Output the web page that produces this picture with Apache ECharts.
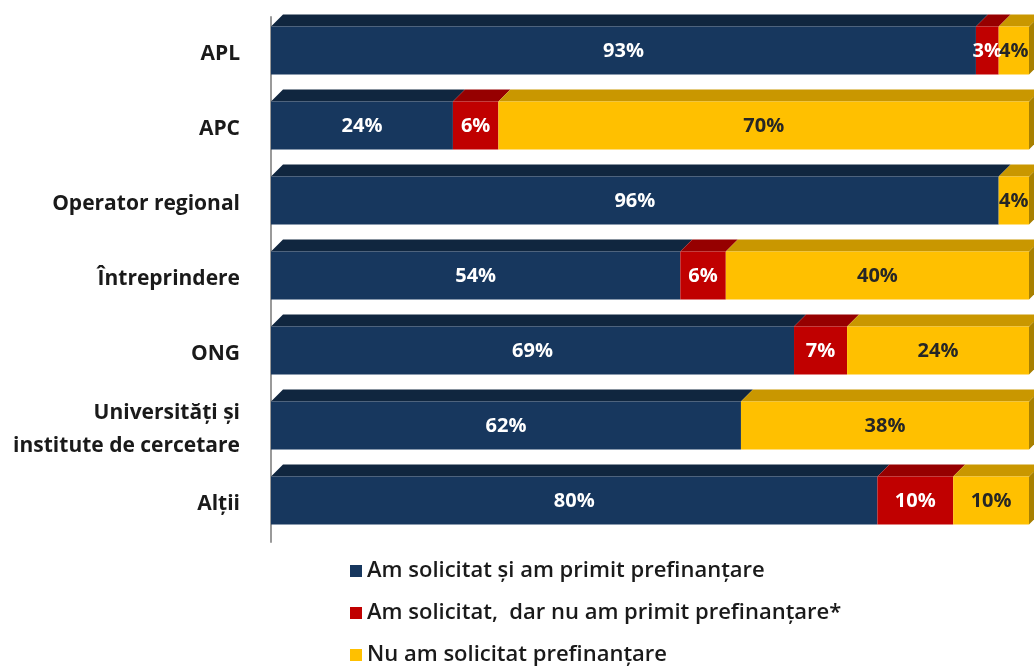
<!DOCTYPE html>
<html>
<head>
<meta charset="utf-8">
<script src="https://cdn.jsdelivr.net/npm/echarts@6/dist/echarts.min.js"></script>
<style>
  html, body { margin: 0; padding: 0; background: #fff; }
  #chart { width: 1034px; height: 671px; }
</style>
</head>
<body>
<div id="chart"></div>
<script>
  // categorii si valori (%)
  const categories = ['APL', 'APC', 'Operator regional', 'Întreprindere', 'ONG', 'Universități și\ninstitute de cercetare', 'Alții'];
  const seriesNames = ['Am solicitat și am primit prefinanțare', 'Am solicitat,  dar nu am primit prefinanțare*', 'Nu am solicitat prefinanțare'];
  const primit = [93, 24, 96, 54, 69, 62, 80];
  const respins = [3, 6, 0, 6, 7, 0, 10];
  const nesolicitat = [4, 70, 4, 40, 24, 38, 10];

  const frontColors = ['#17375e', '#c00000', '#ffc000'];
  const topColors = ['#10263f', '#960000', '#c99700'];
  const sideColors = ['#0c1d30', '#7a0000', '#a88000'];
  const labelColors = ['#ffffff', '#ffffff', '#262626'];

  const allValues = [primit, respins, nesolicitat];
  const depth = 12;

  const chart = echarts.init(document.getElementById('chart'));

  function buildData(k) {
    const out = [];
    for (let i = 0; i < categories.length; i++) {
      let start = 0;
      for (let j = 0; j < k; j++) start += allValues[j][i];
      out.push([start, start + allValues[k][i], i, allValues[k][i]]);
    }
    return out;
  }

  function makeRender(k) {
    return function (params, api) {
      const s = api.value(0), e = api.value(1), idx = api.value(2), v = api.value(3);
      if (!v) return;
      const p0 = api.coord([s, idx]);
      const p1 = api.coord([e, idx]);
      const y0 = p0[1] - 28, y1 = p0[1] + 20;
      const children = [
        {
          type: 'polygon',
          shape: { points: [[p0[0], y0], [p0[0] + depth, y0 - depth], [p1[0] + depth, y0 - depth], [p1[0], y0]] },
          style: { fill: topColors[k] }
        },
        {
          type: 'rect',
          shape: { x: p0[0], y: y0, width: p1[0] - p0[0], height: y1 - y0 },
          style: { fill: frontColors[k] }
        }
      ];
      if (e >= 100) {
        children.push({
          type: 'polygon',
          shape: { points: [[p1[0], y0], [p1[0] + depth, y0 - depth], [p1[0] + depth, y1 - depth], [p1[0], y1]] },
          style: { fill: sideColors[k] }
        });
      }
      children.push({
        type: 'text',
        z2: 100,
        style: {
          text: v + '%',
          x: (p0[0] + p1[0]) / 2,
          y: (y0 + y1) / 2 + 1,
          align: 'center',
          verticalAlign: 'middle',
          fill: labelColors[k],
          font: 'bold 20px "Open Sans"'
        }
      });
      return { type: 'group', children: children };
    };
  }

  const series = [];
  for (let k = 0; k < 3; k++) {
    series.push({
      name: seriesNames[k],
      type: 'custom',
      clip: false,
      itemStyle: { color: frontColors[k] },
      encode: { x: [0, 1], y: 2 },
      renderItem: makeRender(k),
      data: buildData(k)
    });
  }

  const option = {
    animation: false,
    grid: { left: 271, right: 5, top: 17, bottom: 129 },
    legend: {
      orient: 'vertical',
      left: 345,
      top: 555,
      icon: 'rect',
      itemWidth: 12,
      itemHeight: 12,
      itemGap: 20,
      textStyle: { fontFamily: 'Open Sans', fontWeight: 600, fontSize: 22, color: '#1a1a1a', lineHeight: 20 },
      data: seriesNames
    },
    xAxis: {
      type: 'value',
      min: 0,
      max: 100,
      show: false
    },
    yAxis: {
      type: 'category',
      inverse: true,
      data: categories,
      offset: 5,
      axisLine: { show: true, lineStyle: { color: '#9a9a9a', width: 2 } },
      axisTick: { show: false },
      axisLabel: {
        margin: 26,
        fontFamily: 'Open Sans',
        fontWeight: 'bold',
        fontSize: 21,
        color: '#1a1a1a',
        lineHeight: 33,
        padding: [6, 0, 0, 0],
        align: 'right'
      }
    },
    series: series
  };

  chart.setOption(option);
</script>
</body>
</html>
